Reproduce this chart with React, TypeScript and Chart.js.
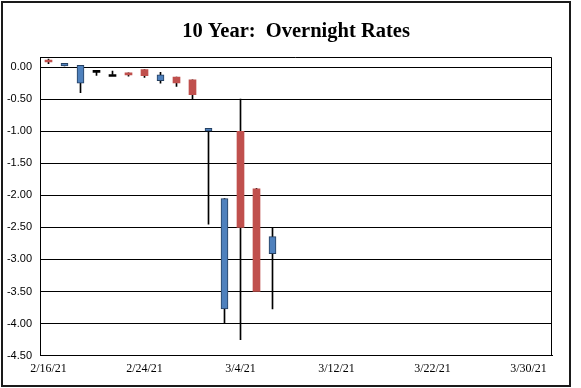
import React, { useEffect, useRef } from 'react';
import { Chart, registerables } from 'chart.js';

Chart.register(...registerables);

const TITLE = '10 Year:  Overnight Rates';

// Business-day candles
const DATES = ['2/16/21', '2/17/21', '2/18/21', '2/19/21', '2/22/21', '2/23/21', '2/24/21', '2/25/21',
  '2/26/21', '3/1/21', '3/2/21', '3/3/21', '3/4/21', '3/5/21', '3/8/21'];
const OPEN = [0.095, 0.02, -0.25, -0.05, -0.115, -0.09, -0.04, -0.21, -0.155, -0.2, -1.0, -3.77, -1.0, -1.9, -2.91];
const HIGH = [0.125, 0.06, 0.03, -0.05, -0.06, -0.09, -0.04, -0.08, -0.155, -0.2, -0.955, -2.05, -0.5, -1.89, -2.5];
const LOW = [0.055, 0.02, -0.4, -0.13, -0.115, -0.14, -0.16, -0.25, -0.3, -0.5, -2.45, -4.0, -4.25, -3.5, -3.77];
const CLOSE = [0.08, 0.06, 0.03, -0.05, -0.115, -0.11, -0.135, -0.12, -0.245, -0.43, -0.955, -2.05, -2.5, -3.5, -2.645];

const Y_TICKS = [0, -0.5, -1, -1.5, -2, -2.5, -3, -3.5, -4, -4.5];
const Y_MIN = -4.5;
const Y_MAX = 0.158;

// x axis in business-day slots; labels every 6 slots
const X_TICK_INDEX = [0, 6, 12, 18, 24, 30];
const X_TICK_LABELS = ['2/16/21', '2/24/21', '3/4/21', '3/12/21', '3/22/21', '3/30/21'];
const X_MIN = -0.53125;
const X_MAX = 31.46875;

const UP_FILL = '#4F81BD';
const UP_BORDER = '#243F60';
const DOWN_FILL = '#C0504D';
const DOJI = '#000000';

const kind = (i: number) => (CLOSE[i] === OPEN[i] ? 'doji' : CLOSE[i] > OPEN[i] ? 'up' : 'down');

const framePlugin = {
  id: 'frame',
  afterDraw(chart: any) {
    const { ctx, chartArea: a } = chart;
    ctx.save();
    ctx.strokeStyle = '#000';
    ctx.lineWidth = 1;
    ctx.beginPath();
    const t = Math.round(a.top) + 0.5;
    const r = Math.round(a.right) - 0.5;
    ctx.moveTo(a.left, t);
    ctx.lineTo(r, t);
    ctx.lineTo(r, a.bottom);
    ctx.stroke();
    ctx.lineWidth = 2;
    ctx.strokeStyle = '#1a1a1a';
    ctx.strokeRect(2, 2, 568, 384);
    ctx.fillStyle = '#000';
    ctx.font = 'bold 20.5px "Liberation Serif"';
    ctx.textAlign = 'center';
    ctx.textBaseline = 'alphabetic';
    ctx.fillText(TITLE, (a.left + a.right) / 2, 37);
    ctx.restore();
  },
};

export default function App() {
  const ref = useRef<HTMLCanvasElement>(null);

  useEffect(() => {
    if (!ref.current) return;
    const bodies = DATES.map((_, i) => ({ x: i, y: [OPEN[i], CLOSE[i]] }));
    const wicks = DATES.map((_, i) => ({ x: i, y: [LOW[i], HIGH[i]] }));
    const chart = new Chart(ref.current, {
      type: 'bar',
      data: {
        datasets: [
          {
            label: 'body',
            data: bodies as any,
            order: 0,
            grouped: false,
            barThickness: 7,
            minBarLength: 2,
            borderSkipped: false,
            backgroundColor: DATES.map((_, i) => (kind(i) === 'up' ? UP_FILL : kind(i) === 'down' ? DOWN_FILL : DOJI)),
            borderColor: DATES.map((_, i) => (kind(i) === 'up' ? UP_BORDER : DOJI)),
            borderWidth: DATES.map((_, i) => (kind(i) === 'up' ? 1 : 0)),
          } as any,
          {
            label: 'wick',
            data: wicks as any,
            order: 1,
            grouped: false,
            barThickness: 1,
            borderSkipped: false,
            backgroundColor: '#000',
            borderWidth: 0,
          } as any,
        ],
      },
      options: {
        animation: false,
        responsive: false,
        layout: { padding: { top: 57, bottom: 6, left: 0, right: 29 } },
        plugins: { legend: { display: false }, tooltip: { enabled: false }, title: { display: false } },
        scales: {
          x: {
            type: 'linear',
            min: X_MIN,
            max: X_MAX,
            offset: false,
            grid: { display: false, drawTicks: false },
            border: { display: true, color: '#000', width: 1 },
            afterBuildTicks: (scale: any) => {
              scale.ticks = X_TICK_INDEX.map((v) => ({ value: v }));
            },
            ticks: {
              autoSkip: false,
              maxRotation: 0,
              minRotation: 0,
              padding: 6,
              color: '#000',
              font: { family: '"Liberation Serif"', size: 12 },
              callback: (_v: any, i: number) => X_TICK_LABELS[i],
            },
          },
          y: {
            type: 'linear',
            min: Y_MIN,
            max: Y_MAX,
            grid: { color: '#000', lineWidth: 1, drawTicks: false },
            border: { display: true, color: '#000', width: 1 },
            afterBuildTicks: (scale: any) => {
              scale.ticks = Y_TICKS.map((v) => ({ value: v }));
            },
            afterFit: (scale: any) => {
              scale.width = 40;
            },
            ticks: {
              padding: 8,
              color: '#000',
              font: { family: '"Liberation Sans"', size: 11 },
              callback: (v: any) => Number(v).toFixed(2),
            },
          },
        },
      },
      plugins: [framePlugin],
    });
    return () => chart.destroy();
  }, []);

  return (
    <div style={{ position: 'fixed', left: 0, top: 0, width: 581, height: 388, background: '#fff' }}>
      <canvas ref={ref} width={581} height={388} style={{ display: 'block', width: 581, height: 388 }} />
    </div>
  );
}
